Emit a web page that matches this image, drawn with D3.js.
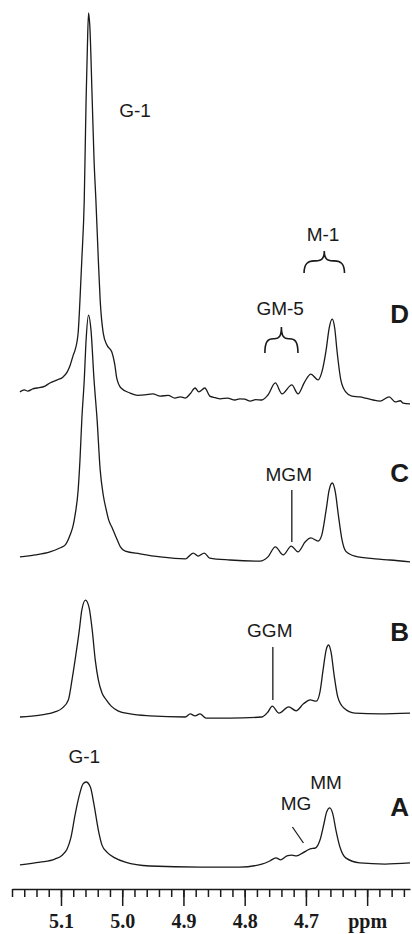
<!DOCTYPE html>
<html>
<head>
<meta charset="utf-8">
<script src="https://cdn.jsdelivr.net/npm/d3@7"></script>
<style>
  body { margin: 0; background: #fff; }
  svg { display: block; }
  .lbl { font-family: "Liberation Sans", Arial, sans-serif; font-size: 19px; fill: #1a1a1a; }
  .big { font-family: "Liberation Sans", Arial, sans-serif; font-size: 26px; font-weight: bold; fill: #1a1a1a; }
  .axis text { font-family: "Liberation Serif", "Times New Roman", serif; font-size: 20px; font-weight: bold; fill: #1a1a1a; }
  .axis path, .axis line { stroke: #1a1a1a; stroke-width: 1.5; }
</style>
</head>
<body>
<div id="chart"></div>
<script>
var svgWidth = 412;
var svgHeight = 934;

// spectra: chemical shift (ppm) and intensity (D G-1 peak = 100)
var ppmD = [5.167, 5.160, 5.154, 5.146, 5.139, 5.126, 5.118, 5.106, 5.097, 5.090, 5.085, 5.080, 5.077, 5.072, 5.069, 5.066, 5.062, 5.059, 5.057, 5.055, 5.053, 5.049, 5.046, 5.043, 5.039, 5.036, 5.031, 5.025, 5.017, 5.012, 5.009, 5.002, 4.987, 4.975, 4.963, 4.950, 4.938, 4.925, 4.914, 4.905, 4.897, 4.889, 4.881, 4.875, 4.865, 4.857, 4.848, 4.840, 4.828, 4.816, 4.808, 4.800, 4.791, 4.782, 4.772, 4.762, 4.750, 4.739, 4.723, 4.713, 4.702, 4.692, 4.680, 4.674, 4.667, 4.662, 4.657, 4.653, 4.649, 4.643, 4.635, 4.625, 4.612, 4.603, 4.590, 4.579, 4.564, 4.554, 4.546, 4.541, 4.530];
var intD = [2.1, 2.6, 2.3, 2.9, 3.1, 3.6, 4.4, 5.2, 5.9, 7.2, 9.0, 11.6, 12.9, 17.3, 25.8, 36.2, 51.7, 77.5, 90.4, 100, 96.9, 77.5, 62.0, 51.7, 36.2, 25.8, 17.3, 14.2, 12.4, 9.0, 5.7, 3.1, 1.8, 1.2, 1.3, 1.6, 1.0, 1.2, 0.5, 0.8, 0.5, 1.6, 3.1, 2.1, 3.1, 1.0, 0.6, 0.3, 0.5, 0, 0.3, 0.2, -0.3, 0.1, 0, 1.3, 4.4, 1.6, 3.9, 1.6, 4.7, 6.7, 5.2, 7.2, 12.9, 18.6, 20.9, 18.6, 12.4, 5.2, 2.1, 1.0, 0.8, 0.5, 0, -0.3, 0.8, -0.5, -0.2, -0.8, -1.0];

var ppmC = [5.167, 5.142, 5.118, 5.102, 5.093, 5.085, 5.080, 5.077, 5.072, 5.069, 5.066, 5.062, 5.059, 5.055, 5.051, 5.046, 5.041, 5.036, 5.031, 5.026, 5.022, 5.017, 5.010, 5.003, 4.995, 4.971, 4.938, 4.897, 4.884, 4.876, 4.866, 4.857, 4.824, 4.775, 4.762, 4.750, 4.737, 4.724, 4.713, 4.701, 4.692, 4.680, 4.674, 4.667, 4.662, 4.657, 4.652, 4.647, 4.641, 4.635, 4.620, 4.587, 4.563, 4.530];
var intC = [0.8, 1.3, 2.1, 3.1, 3.9, 6.5, 9.0, 11.6, 18.0, 25.8, 36.2, 46.5, 56.8, 63.3, 59.4, 46.5, 36.2, 23.3, 16.8, 12.9, 10.3, 8.5, 5.9, 3.4, 2.3, 1.6, 0.8, 0.3, 1.8, 1.0, 1.8, 0.5, 0, -0.3, 0.8, 3.4, 1.3, 3.6, 2.1, 4.7, 5.7, 4.9, 6.5, 12.9, 18.1, 19.9, 17.6, 11.6, 5.2, 2.3, 1.0, 0.3, 0, -0.5];

var ppmB = [5.167, 5.134, 5.110, 5.098, 5.088, 5.082, 5.077, 5.070, 5.066, 5.060, 5.054, 5.049, 5.044, 5.039, 5.033, 5.026, 5.018, 5.007, 4.987, 4.955, 4.897, 4.889, 4.881, 4.873, 4.863, 4.824, 4.772, 4.762, 4.755, 4.744, 4.728, 4.716, 4.704, 4.693, 4.683, 4.677, 4.672, 4.667, 4.663, 4.659, 4.654, 4.648, 4.638, 4.620, 4.579, 4.530];
var intB = [0, 0.5, 1.3, 2.3, 4.4, 9.6, 14.7, 22.5, 27.6, 30.2, 28.2, 22.5, 14.7, 9.6, 6.2, 4.4, 2.8, 1.6, 0.8, 0.3, 0, 0.8, 0.3, 0.8, -0.3, -0.3, 0, 1.3, 2.8, 1.0, 2.6, 1.6, 3.4, 4.4, 4.1, 6.5, 12.1, 17.3, 18.6, 16.8, 10.9, 5.2, 2.3, 1.0, 0.8, 1.0];

var ppmA = [5.167, 5.134, 5.110, 5.098, 5.090, 5.084, 5.077, 5.070, 5.064, 5.059, 5.052, 5.046, 5.039, 5.033, 5.025, 5.012, 4.995, 4.955, 4.873, 4.808, 4.772, 4.759, 4.749, 4.741, 4.731, 4.723, 4.715, 4.705, 4.693, 4.684, 4.677, 4.671, 4.666, 4.661, 4.656, 4.651, 4.644, 4.635, 4.612, 4.571, 4.530];
var intA = [0.3, 1.0, 1.8, 2.8, 4.4, 7.2, 13.2, 18.3, 21.2, 21.7, 20.4, 15.8, 9.3, 5.4, 3.6, 2.1, 1.0, 0, -0.3, -0.3, 0.5, 1.3, 2.1, 1.6, 2.6, 2.8, 2.6, 3.4, 4.4, 4.7, 6.7, 10.6, 14.0, 15.0, 13.4, 9.3, 4.7, 2.1, 0.8, 0.5, 0.8];

var traceNames = ["D", "C", "B", "A"];
var tickMajor = [5.1, 5.0, 4.9, 4.8, 4.7, 4.6];
var tickLabels = ["5.1", "5.0", "4.9", "4.8", "4.7", "ppm"];

// layout
var baselines = {D: 400, C: 560, B: 717, A: 866};
var axisY = 889;

var svg = d3.select("#chart")
  .append("svg")
  .attr("width", svgWidth)
  .attr("height", svgHeight);

var x = d3.scaleLinear()
  .domain([5.18, 4.53])
  .range([12, 410]);

var traces = {
  D: {ppm: ppmD, val: intD},
  C: {ppm: ppmC, val: intC},
  B: {ppm: ppmB, val: intB},
  A: {ppm: ppmA, val: intA}
};

traceNames.forEach(function(name) {
  var base = baselines[name];
  var y = d3.scaleLinear().domain([0, 100]).range([base, base - 387]);
  var pts = traces[name].ppm.map(function(p, i) { return [p, traces[name].val[i]]; });
  var line = d3.line()
    .x(d => x(d[0]))
    .y(d => y(d[1]))
    .curve(d3.curveMonotoneX);
  svg.append("path")
    .datum(pts)
    .attr("d", line)
    .attr("fill", "none")
    .attr("stroke", "#1a1a1a")
    .attr("stroke-width", 1.3)
    .attr("stroke-linejoin", "round");
});

// trace letters
var letterY = {D: 323, C: 482, B: 641, A: 816};
traceNames.forEach(function(name) {
  svg.append("text")
    .attr("class", "big")
    .attr("x", 409)
    .attr("y", letterY[name])
    .attr("text-anchor", "end")
    .text(name);
});

// peak labels
var labels = [
  {t: "G-1", ppm: 4.979, y: 117},
  {t: "M-1", ppm: 4.672, y: 241},
  {t: "GM-5", ppm: 4.742, y: 315},
  {t: "MGM", ppm: 4.728, y: 481},
  {t: "GGM", ppm: 4.759, y: 637},
  {t: "MM", ppm: 4.667, y: 789},
  {t: "MG", ppm: 4.716, y: 810},
  {t: "G-1", ppm: 5.062, y: 763}
];
svg.selectAll(".lbl")
  .data(labels)
  .enter()
  .append("text")
  .attr("class", "lbl")
  .attr("x", d => x(d.ppm))
  .attr("y", d => d.y)
  .attr("text-anchor", "middle")
  .text(d => d.t);

// pointer lines
var pointers = [
  {p1: 4.723, p2: 4.723, y1: 490, y2: 542},
  {p1: 4.754, p2: 4.754, y1: 647, y2: 700},
  {p1: 4.722, p2: 4.704, y1: 827, y2: 843}
];
svg.selectAll(".ptr")
  .data(pointers)
  .enter()
  .append("line")
  .attr("x1", d => x(d.p1))
  .attr("x2", d => x(d.p2))
  .attr("y1", d => d.y1)
  .attr("y2", d => d.y2)
  .attr("stroke", "#1a1a1a")
  .attr("stroke-width", 1.3);

// braces
function brace(x0, x1, yt, yb) {
  var xc = (x0 + x1) / 2;
  var ym = yt + (yb - yt) * 0.45;
  var r = (x1 - x0) * 0.18;
  return "M" + x0 + "," + yb +
    "C" + x0 + "," + (ym + 2) + " " + (x0 + r * 0.6) + "," + ym + " " + (x0 + r * 1.4) + "," + ym +
    "L" + (xc - r * 1.2) + "," + ym +
    "C" + (xc - 2) + "," + ym + " " + xc + "," + (ym - 3) + " " + xc + "," + yt +
    "C" + xc + "," + (ym - 3) + " " + (xc + 2) + "," + ym + " " + (xc + r * 1.2) + "," + ym +
    "L" + (x1 - r * 1.4) + "," + ym +
    "C" + (x1 - r * 0.6) + "," + ym + " " + x1 + "," + (ym + 2) + " " + x1 + "," + yb;
}
var braces = [
  {p0: 4.767, p1: 4.713, yt: 327, yb: 353},
  {p0: 4.703, p1: 4.637, yt: 251, yb: 273}
];
svg.selectAll(".brace")
  .data(braces)
  .enter()
  .append("path")
  .attr("d", d => brace(x(d.p0), x(d.p1), d.yt, d.yb))
  .attr("fill", "none")
  .attr("stroke", "#1a1a1a")
  .attr("stroke-width", 1.6);

// axis
var minorTicks = d3.range(0, 33).map(i => +(5.18 - i * 0.02).toFixed(2));

svg.append("g")
  .attr("class", "axis")
  .attr("transform", `translate(0, ${axisY})`)
  .call(d3.axisBottom(x).tickValues(minorTicks).tickSize(8).tickSizeOuter(0).tickFormat(""));

var majorAxis = svg.append("g")
  .attr("class", "axis")
  .attr("transform", `translate(0, ${axisY})`)
  .call(d3.axisBottom(x).tickValues(tickMajor).tickSize(17).tickSizeOuter(0)
    .tickFormat((d, i) => tickLabels[i]));
majorAxis.selectAll("text").attr("y", 25);
majorAxis.select(".domain").remove();
</script>
</body>
</html>
